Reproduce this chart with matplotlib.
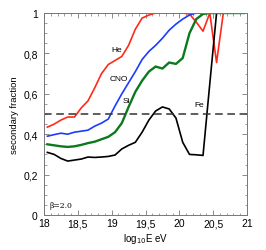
import numpy as np
import matplotlib.pyplot as plt
from matplotlib.ticker import MultipleLocator, FuncFormatter

# log10 E bin centres
logE = np.round(np.arange(18.05, 21.0, 0.1), 2)

he = [0.435, 0.45, 0.47, 0.485, 0.485, 0.53, 0.565, 0.63, 0.70, 0.745,
      0.765, 0.785, 0.84, 0.92, 0.975, 0.99, 1.0, 1.0, 1.0, 1.0,
      1.0, 0.995, 0.955, 0.91, 1.0, 0.755, 1.0, 1.0, 1.0, 1.0]
cno = [0.39, 0.398, 0.405, 0.40, 0.41, 0.415, 0.42, 0.44, 0.455, 0.475,
       0.54, 0.60, 0.655, 0.71, 0.77, 0.81, 0.84, 0.875, 0.915, 0.945,
       0.97, 0.99, 1.0, 1.0, 1.0, 1.0, 1.0, 1.0, 1.0, 1.0]
si = [0.35, 0.345, 0.34, 0.337, 0.34, 0.347, 0.356, 0.363, 0.375, 0.387,
      0.41, 0.455, 0.535, 0.61, 0.665, 0.71, 0.735, 0.725, 0.755, 0.748,
      0.777, 0.90, 0.97, 0.995, 1.0, 1.0, 1.0, 1.0, 1.0, 1.0]
fe = [0.31, 0.30, 0.28, 0.267, 0.272, 0.277, 0.287, 0.285, 0.287, 0.29,
      0.297, 0.327, 0.345, 0.36, 0.41, 0.47, 0.515, 0.535, 0.525, 0.48,
      0.36, 0.30, 0.298, 0.295, 0.65, 1.0, 1.0, 1.0, 1.0, 1.0]

plt.rcParams['font.family'] = ['Liberation Sans', 'DejaVu Sans']

fig = plt.figure(figsize=(2.66, 2.51), dpi=100)
ax = fig.add_axes([0.1654, 0.1394, 0.7632, 0.8048])

ax.plot(logE, he, color='#ff2a1a', lw=1.2)
ax.plot(logE, cno, color='#1a3cff', lw=1.2)
ax.plot(logE, si, color='#0b7a1e', lw=1.7)
ax.plot(logE, fe, color='black', lw=1.2)
ax.axhline(0.5, color='#333333', lw=1.1, ls=(0, (5, 3)))

ax.text(19.07, 0.82, 'He', fontsize=6, ha='center', va='center')
ax.text(19.11, 0.675, 'CNO', fontsize=6, ha='center', va='center')
ax.text(19.22, 0.565, 'Si', fontsize=6, ha='center', va='center')
ax.text(20.3, 0.545, 'Fe', fontsize=6, ha='center', va='center')
ax.text(18.08, 0.05, r'β=2.0', fontsize=5.5, family='DejaVu Serif',
        ha='left', va='center')

ax.set_xlim(18, 21)
ax.set_ylim(0, 1)
ax.xaxis.set_major_locator(MultipleLocator(0.5))
ax.xaxis.set_minor_locator(MultipleLocator(0.1))
ax.yaxis.set_major_locator(MultipleLocator(0.2))
ax.yaxis.set_minor_locator(MultipleLocator(0.05))

fmt = FuncFormatter(lambda v, p: ('%g' % round(v, 2)).replace('.', ','))
ax.xaxis.set_major_formatter(fmt)
ax.yaxis.set_major_formatter(fmt)

ax.tick_params(which='both', direction='in', top=True, right=True,
               color='#777777', labelsize=7.5)
ax.tick_params(axis='x', pad=2.5)
ax.tick_params(axis='y', pad=4.5)
ax.tick_params(which='major', length=3.5, width=0.6)
ax.tick_params(which='minor', length=1.8, width=0.5)
for s in ax.spines.values():
    s.set_color('#777777')
    s.set_linewidth(0.7)

ax.set_xlabel(r'log$_{10}$E eV', fontsize=7, labelpad=2)
ax.set_ylabel('secondary fraction', fontsize=6.8, labelpad=3)

fig.savefig('out.png', dpi=100)
